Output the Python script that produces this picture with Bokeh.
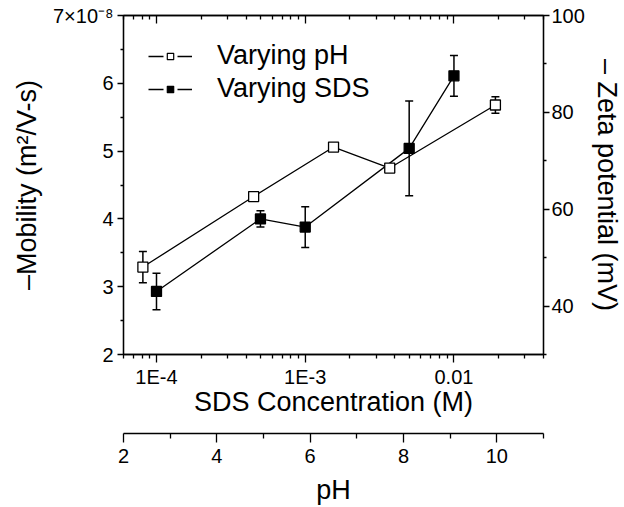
from bokeh.plotting import figure
from bokeh.models import (Range1d, LinearAxis, LogAxis, FixedTicker, Whisker, TeeHead,
                          ColumnDataSource, Legend, LegendItem, LinearScale)
from bokeh.embed import file_html
from bokeh.resources import INLINE

# ---------------- data ----------------
# "Varying SDS" series (filled squares)
sds_conc_M = [1e-4, 5e-4, 1e-3, 5e-3, 1e-2]
mobility_vary_sds = [2.93, 4.00, 3.88, 5.04, 6.11]
error_vary_sds = [0.27, 0.12, 0.30, 0.70, 0.30]

# "Varying pH" series (open squares), positioned on the SDS axis
ph_series_x_M = [8.1e-5, 4.5e-4, 1.55e-3, 3.7e-3, 1.9e-2]
mobility_vary_ph = [3.29, 4.33, 5.06, 4.75, 5.68]
error_vary_ph = [0.23, 0.06, 0.03, 0.05, 0.12]

# axes / ticks
mobility_ticks = [2, 3, 4, 5, 6, 7]
mobility_minor = [2.5, 3.5, 4.5, 5.5, 6.5]
mobility_top_label = "7×10⁻⁸"
zeta_ticks = [40, 60, 80, 100]
zeta_minor = [30, 50, 70, 90]
sds_ticks = [1e-4, 1e-3, 1e-2]
sds_tick_labels = ["1E-4", "1E-3", "0.01"]
sds_minor = [6e-5, 7e-5, 8e-5, 9e-5,
             2e-4, 3e-4, 4e-4, 5e-4, 6e-4, 7e-4, 8e-4, 9e-4,
             2e-3, 3e-3, 4e-3, 5e-3, 6e-3, 7e-3, 8e-3, 9e-3,
             2e-2, 3e-2, 4e-2]
ph_ticks = [2, 4, 6, 8, 10]
ph_minor = [3, 5, 7, 9, 11]

FONT = "Liberation Sans"
NAN = float("nan")

p = figure(width=624, height=507, x_axis_type="log",
           x_range=Range1d(6e-5, 4e-2), y_range=Range1d(2, 7),
           output_backend="svg", toolbar_location=None,
           min_border_left=123, min_border_right=77, min_border_top=15,
           min_border_bottom=152,
           outline_line_color="black", outline_line_width=1.3)
p.grid.visible = False
p.extra_y_ranges = {"zeta": Range1d(30, 100)}
p.extra_x_ranges = {"ph": Range1d(2, 11)}
p.extra_x_scales = {"ph": LinearScale()}


def style(ax, tick_out=6, minor_out=3, label_standoff=4):
    ax.axis_line_color = "black"
    ax.axis_line_width = 1.3
    ax.major_tick_line_color = "black"
    ax.minor_tick_line_color = "black"
    ax.major_tick_line_width = 1.3
    ax.minor_tick_line_width = 1.3
    ax.major_tick_out = tick_out
    ax.major_tick_in = 0
    ax.minor_tick_out = minor_out
    ax.minor_tick_in = 0
    ax.major_label_text_font = FONT
    ax.major_label_text_font_size = "20px"
    ax.major_label_text_color = "black"
    ax.major_label_standoff = label_standoff
    ax.axis_label_text_font = FONT
    ax.axis_label_text_font_size = "27px"
    ax.axis_label_text_font_style = "normal"
    ax.axis_label_text_color = "black"


# left axis
ly = p.yaxis[0]
style(ly, 6, 3, 4)
ly.ticker = FixedTicker(ticks=mobility_ticks, minor_ticks=mobility_minor)
ly.major_label_overrides = {7: mobility_top_label}
ly.axis_label = "–Mobility (m²/V-s)"
ly.axis_label_standoff = 8

# bottom SDS axis
bx = p.xaxis[0]
style(bx, 8, 4, 3)
bx.ticker = FixedTicker(ticks=sds_ticks, minor_ticks=sds_minor)
bx.major_label_overrides = dict(zip(sds_ticks, sds_tick_labels))
bx.axis_label = "SDS Concentration (M)"
bx.axis_label_standoff = -4

# top mirror axis (inward ticks, no visible labels)
tx = LogAxis(ticker=FixedTicker(ticks=sds_ticks, minor_ticks=sds_minor))
style(tx, 0, 0, 0)
tx.major_tick_in = 8
tx.minor_tick_in = 4
tx.major_label_overrides = {t: " " for t in sds_ticks}
tx.major_label_text_font_size = "1px"
tx.major_label_text_alpha = 0
p.add_layout(tx, "above")

# right zeta axis
ry = LinearAxis(y_range_name="zeta",
                ticker=FixedTicker(ticks=zeta_ticks, minor_ticks=zeta_minor))
style(ry, 6, 3, 2)
ry.axis_label = "– Zeta potential (mV)"
ry.axis_label_standoff = 4
p.add_layout(ry, "right")

# spacer between SDS axis and pH axis
sp = LinearAxis(x_range_name="ph", ticker=FixedTicker(ticks=[5]))
sp.major_label_overrides = {5: " "}
sp.axis_line_color = None
sp.major_tick_line_color = None
sp.minor_tick_line_color = None
sp.major_tick_out = 14
sp.major_tick_in = 0
sp.major_label_standoff = 0
sp.major_label_text_font_size = "1px"
sp.major_label_text_alpha = 0
p.add_layout(sp, "below")

# pH axis
px = LinearAxis(x_range_name="ph",
                ticker=FixedTicker(ticks=ph_ticks, minor_ticks=ph_minor))
style(px, 9, 5, 6)
px.axis_label = "pH"
px.axis_label_standoff = 9
p.add_layout(px, "below")

# ---------------- data glyphs ----------------
src_ph = ColumnDataSource(dict(x=ph_series_x_M, y=mobility_vary_ph,
                               lo=[m - e for m, e in zip(mobility_vary_ph, error_vary_ph)],
                               hi=[m + e for m, e in zip(mobility_vary_ph, error_vary_ph)]))
src_sds = ColumnDataSource(dict(x=sds_conc_M, y=mobility_vary_sds,
                                lo=[m - e for m, e in zip(mobility_vary_sds, error_vary_sds)],
                                hi=[m + e for m, e in zip(mobility_vary_sds, error_vary_sds)]))

for src in (src_ph, src_sds):
    w = Whisker(source=src, base="x", lower="lo", upper="hi", dimension="height",
                line_color="black", line_width=1.5,
                upper_head=TeeHead(size=8, line_color="black", line_width=1.5),
                lower_head=TeeHead(size=8, line_color="black", line_width=1.5))
    p.add_layout(w)

p.line("x", "y", source=src_ph, line_color="black", line_width=1.3)
p.line("x", "y", source=src_sds, line_color="black", line_width=1.3)
p.scatter("x", "y", source=src_ph, marker="square", size=10,
          fill_color="white", line_color="black", line_width=1.3)
p.scatter("x", "y", source=src_sds, marker="square", size=10,
          fill_color="black", line_color="black", line_width=1.3)

# ---------------- legend (legend-only helper renderers) ----------------
lg_line_ph = p.line([NAN], [NAN], line_color="black", line_width=1.3, line_dash="15 14")
lg_mk_ph = p.scatter([NAN], [NAN], marker="square", fill_color="white",
                     line_color="black", line_width=1.2)
lg_line_sds = p.line([NAN], [NAN], line_color="black", line_width=1.3, line_dash="15 14")
lg_mk_sds = p.scatter([NAN], [NAN], marker="square", fill_color="black",
                      line_color="black", line_width=1.2)

legend = Legend(items=[LegendItem(label="Varying pH", renderers=[lg_line_ph, lg_mk_ph]),
                       LegendItem(label="Varying SDS", renderers=[lg_line_sds, lg_mk_sds])],
                location="top_left", margin=25, padding=0, spacing=2,
                glyph_width=44, glyph_height=16, label_standoff=25,
                label_text_font=FONT, label_text_font_size="27px",
                label_text_color="black",
                border_line_color=None, background_fill_alpha=0)
p.add_layout(legend)

open("out.html", "w").write(file_html(p, INLINE))
